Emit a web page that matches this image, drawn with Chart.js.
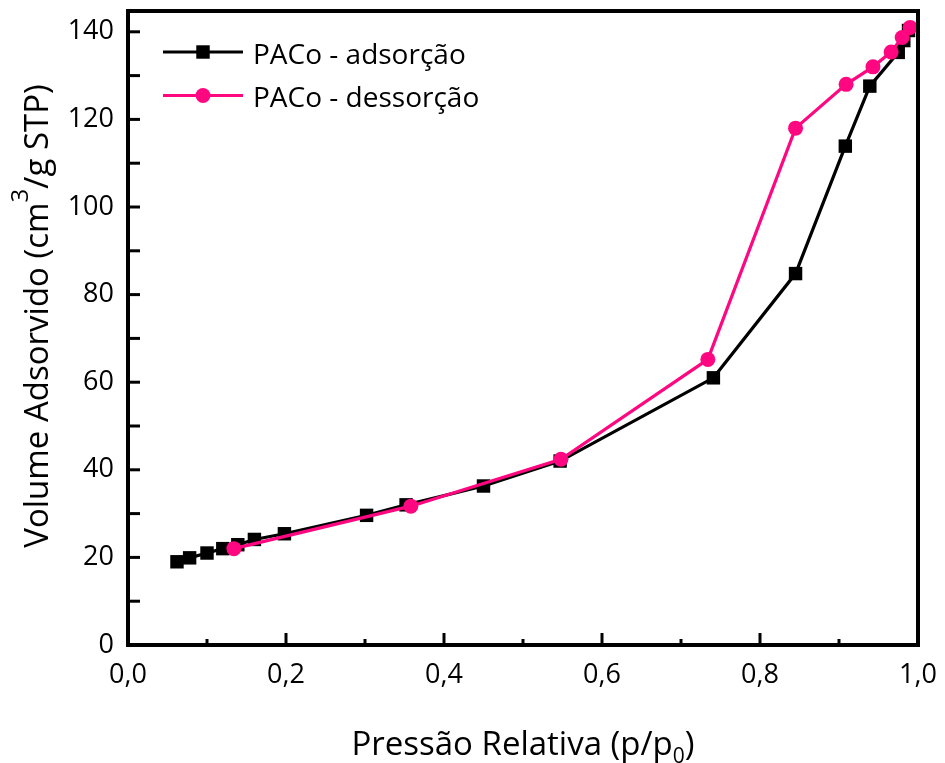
<!DOCTYPE html>
<html>
<head>
<meta charset="utf-8">
<script src="https://cdn.jsdelivr.net/npm/chart.js@4/dist/chart.umd.min.js"></script>
<style>
  html, body { margin: 0; padding: 0; background: #fff; }
  canvas { display: block; }
</style>
</head>
<body>
<canvas id="isotherm" width="945" height="763"></canvas>
<script>
// N2 isotherm, PACo sample
var adsX = [0.062, 0.078, 0.100, 0.120, 0.139, 0.160, 0.198, 0.302, 0.352, 0.450, 0.547, 0.741, 0.845, 0.908, 0.939, 0.975, 0.982, 0.988];
var adsY = [19.0, 19.9, 21.0, 22.0, 22.9, 24.1, 25.4, 29.6, 32.0, 36.3, 42.0, 61.0, 84.8, 113.9, 127.6, 135.3, 138.0, 140.3];
var desX = [0.990, 0.980, 0.966, 0.943, 0.909, 0.845, 0.734, 0.548, 0.358, 0.134];
var desY = [141.0, 138.7, 135.4, 132.0, 128.0, 118.0, 65.2, 42.4, 31.7, 22.0];

var xTicks = [0, 0.2, 0.4, 0.6, 0.8, 1.0];
var xMinorTicks = [0.1, 0.3, 0.5, 0.7, 0.9];
var yTicks = [0, 20, 40, 60, 80, 100, 120, 140];
var yMinorTicks = [10, 30, 50, 70, 90, 110, 130];

var PINK = '#ff0780';

function toPoints(xs, ys) {
    return xs.map(function (x, i) { return { x: x, y: ys[i] }; });
}

// box around the plot with inward ticks on the bottom and left sides
var framePlugin = {
    id: 'frame',
    afterDraw: function (chart) {
        var ctx = chart.ctx;
        var a = chart.chartArea;
        var xs = chart.scales.x, ys = chart.scales.y;
        ctx.save();
        ctx.strokeStyle = '#000';
        ctx.lineWidth = 3;
        ctx.lineCap = 'butt';
        xTicks.forEach(function (v) { tick(ctx, xs.getPixelForValue(v), a.bottom, 0, -12); });
        xMinorTicks.forEach(function (v) { tick(ctx, xs.getPixelForValue(v), a.bottom, 0, -6); });
        yTicks.concat(yMinorTicks).forEach(function (v) { tick(ctx, a.left, ys.getPixelForValue(v), 12, 0); });
        ctx.lineWidth = 4;
        ctx.strokeRect(a.left, a.top, a.right - a.left, a.bottom - a.top);
        ctx.restore();
    }
};

function tick(ctx, x, y, dx, dy) {
    ctx.beginPath();
    ctx.moveTo(x, y);
    ctx.lineTo(x + dx, y + dy);
    ctx.stroke();
}

// draws a run of text pieces, each with its own size and baseline shift
function drawPieces(ctx, pieces, family, x, y) {
    var total = 0;
    pieces.forEach(function (p) {
        ctx.font = p.size + 'px ' + family;
        p.w = ctx.measureText(p.text).width;
        total += p.w;
    });
    var cx = x - total / 2;
    pieces.forEach(function (p) {
        ctx.font = p.size + 'px ' + family;
        ctx.fillText(p.text, cx, y + (p.shift || 0));
        cx += p.w;
    });
}

var titlePlugin = {
    id: 'axisTitles',
    afterDraw: function (chart) {
        var ctx = chart.ctx;
        var a = chart.chartArea;
        ctx.save();
        ctx.fillStyle = '#000';
        ctx.textBaseline = 'alphabetic';
        ctx.textAlign = 'left';
        drawPieces(ctx, [
            { text: 'Pressão Relativa (p/p', size: 33 },
            { text: '0', size: 21, shift: 8 },
            { text: ')', size: 33 }
        ], '"Open Sans"', (a.left + a.right) / 2, 755);

        ctx.translate(48, 316);
        ctx.rotate(-Math.PI / 2);
        drawPieces(ctx, [
            { text: 'Volume Adsorvido (cm', size: 33 },
            { text: '3', size: 24, shift: -20 },
            { text: '/g STP)', size: 33 }
        ], '"Open Sans"', 0, 0);
        ctx.restore();
    }
};

// legend sits inside the plot, line with the marker in the middle
var legendPlugin = {
    id: 'insideLegend',
    afterDraw: function (chart) {
        var ctx = chart.ctx;
        var a = chart.chartArea;
        var order = [0, 1];
        ctx.save();
        order.forEach(function (i, row) {
            var ds = chart.data.datasets[i];
            var y = a.top + 41 + row * 43.5;
            var x0 = a.left + 35, x1 = a.left + 115, mx = a.left + 75;
            ctx.strokeStyle = ds.borderColor;
            ctx.lineWidth = ds.borderWidth;
            ctx.beginPath();
            ctx.moveTo(x0, y);
            ctx.lineTo(x1, y);
            ctx.stroke();
            ctx.fillStyle = ds.pointBackgroundColor;
            if (ds.pointStyle === 'rect') {
                var s = ds.pointRadius * Math.SQRT1_2;
                ctx.fillRect(mx - s, y - s, 2 * s, 2 * s);
            } else {
                ctx.beginPath();
                ctx.arc(mx, y, ds.pointRadius, 0, Math.PI * 2);
                ctx.fill();
            }
            ctx.fillStyle = '#000';
            ctx.font = '28px "Open Sans"';
            ctx.textBaseline = 'alphabetic';
            ctx.fillText(ds.label, a.left + 125, y + 11.5);
        });
        ctx.restore();
    }
};

var tickFont = { family: '"Open Sans"', size: 27 };

new Chart(document.getElementById('isotherm'), {
    type: 'scatter',
    data: {
        datasets: [
            {
                label: 'PACo - adsorção',
                data: toPoints(adsX, adsY),
                showLine: true,
                borderColor: '#000',
                borderWidth: 3.2,
                pointStyle: 'rect',
                pointRadius: 9.5,
                pointBackgroundColor: '#000',
                pointBorderWidth: 0,
                order: 1
            },
            {
                label: 'PACo - dessorção',
                data: toPoints(desX, desY),
                showLine: true,
                borderColor: PINK,
                borderWidth: 3.2,
                pointStyle: 'circle',
                pointRadius: 7.5,
                pointBackgroundColor: PINK,
                pointBorderWidth: 0,
                order: 0
            }
        ]
    },
    options: {
        responsive: false,
        devicePixelRatio: 1,
        animation: false,
        layout: { padding: { left: 0, top: 11, right: 27, bottom: 0 } },
        plugins: {
            legend: { display: false },
            tooltip: { enabled: false }
        },
        scales: {
            x: {
                type: 'linear',
                min: 0,
                max: 1,
                grid: { display: false, drawTicks: false },
                border: { display: false },
                ticks: {
                    stepSize: 0.2,
                    padding: 14,
                    color: '#000',
                    font: tickFont,
                    callback: function (v) { return v.toFixed(1).replace('.', ','); }
                },
                afterFit: function (scale) {
                    scale.height = 118;
                    scale.paddingLeft = 0;
                    scale.paddingRight = 0;
                }
            },
            y: {
                type: 'linear',
                min: 0,
                max: 144.75,
                grid: { display: false, drawTicks: false },
                border: { display: false },
                ticks: {
                    stepSize: 20,
                    padding: 14,
                    color: '#000',
                    font: tickFont
                },
                afterBuildTicks: function (scale) {
                    scale.ticks = yTicks.map(function (v) { return { value: v }; });
                },
                afterFit: function (scale) {
                    scale.width = 128;
                    scale.paddingTop = 0;
                    scale.paddingBottom = 0;
                }
            }
        }
    },
    plugins: [framePlugin, titlePlugin, legendPlugin]
});
</script>
</body>
</html>
